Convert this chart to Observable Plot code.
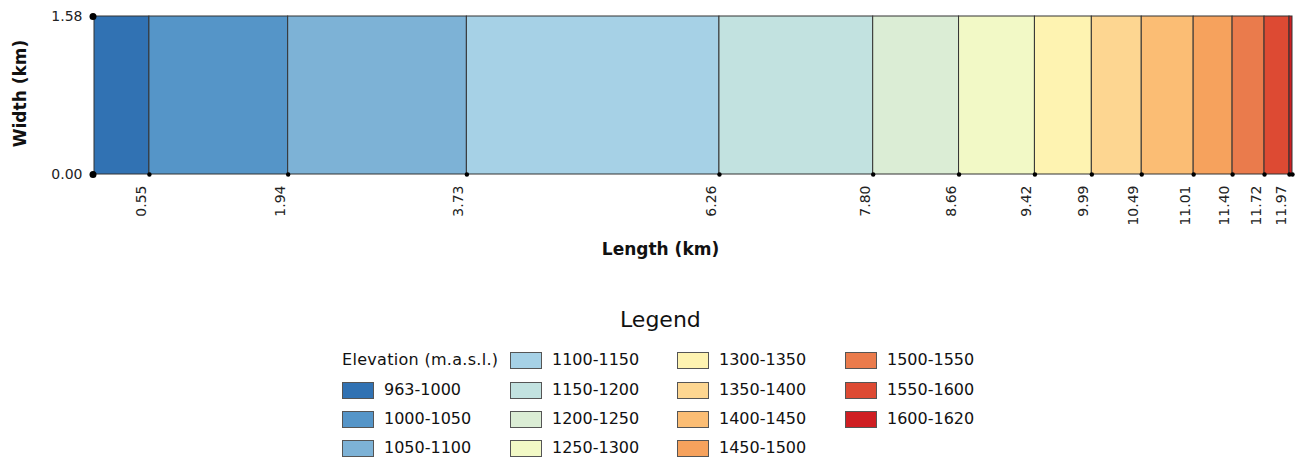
<!DOCTYPE html>
<html>
<head>
<meta charset="utf-8">
<script src="https://cdn.jsdelivr.net/npm/d3@7"></script>
<script src="https://cdn.jsdelivr.net/npm/@observablehq/plot@0.6"></script>
<style>
  html, body { margin: 0; padding: 0; background: #fff; width: 1299px; height: 457px; overflow: hidden; font-family: "DejaVu Sans", sans-serif; }
  #wrap { position: relative; width: 1299px; height: 457px; }
  #legend { position: absolute; left: 0; top: 290px; width: 1299px; height: 167px; }
  .ltitle { position: absolute; font-size: 22px; color: #111; }
  .lhead, .ltext { position: absolute; font-size: 16px; color: #111; white-space: nowrap; line-height: 18px; }
  .lhead { letter-spacing: 0.3px; }
  .sw { position: absolute; width: 30px; height: 15px; border: 1px solid #555; }
</style>
</head>
<body>
<div id="wrap">
  <div id="chart"></div>
  <div id="legend"></div>
</div>
<script>
// Section boundaries along the length (km)
const boundaries = [0, 0.55, 1.94, 3.73, 6.26, 7.80, 8.66, 9.42, 9.99, 10.49, 11.01, 11.40, 11.72, 11.97, 12.00];
// Elevation classes (m.a.s.l.)
const classes = ["963-1000", "1000-1050", "1050-1100", "1100-1150", "1150-1200", "1200-1250", "1250-1300",
                 "1300-1350", "1350-1400", "1400-1450", "1450-1500", "1500-1550", "1550-1600", "1600-1620"];
const colors = ["#3172b3", "#5595c8", "#7db2d6", "#a6d1e6", "#c2e2e0", "#dbedd5", "#f2f9c6",
                "#fef3b1", "#fdd691", "#fbbd74", "#f6a25d", "#ea7b4c", "#dd4a33", "#cf1e22"];
const stripWidth = 1.58;
const yTicks = [0, stripWidth];

const segments = classes.map((c, i) => ({cls: c, x1: boundaries[i], x2: boundaries[i + 1], color: colors[i]}));
const fmt = d3.format(".2f");

const chart = Plot.plot({
  width: 1299,
  height: 290,
  marginLeft: 94,
  marginRight: 7,
  marginTop: 16,
  marginBottom: 116,
  style: {fontFamily: "DejaVu Sans, sans-serif", color: "#222", background: "#fff"},
  x: {domain: [0, boundaries[boundaries.length - 1]]},
  y: {domain: [0, stripWidth]},
  marks: [
    Plot.rect(segments, {x1: "x1", x2: "x2", y1: () => 0, y2: () => stripWidth, fill: "color", stroke: "#333", strokeWidth: 1}),
    Plot.dot(boundaries.slice(1), {x: d => d, y: () => 0, r: 2.2, fill: "black", stroke: "none"}),
    Plot.dot(yTicks, {x: () => 0, y: d => d, r: 3.5, dx: -1.5, fill: "black", stroke: "none"}),
    Plot.axisX(boundaries.slice(1, -1), {tickSize: 0, tickRotate: -90, tickFormat: fmt, fontSize: 14, tickPadding: 11, dx: -8, label: null}),
    Plot.axisY(yTicks, {tickSize: 0, tickFormat: fmt, fontSize: 14, tickPadding: 12, label: null}),
    Plot.text(["Width (km)"], {frameAnchor: "left", textAnchor: "middle", rotate: -90, dx: -74, dy: -2, fontWeight: "bold", fontSize: 17, fill: "#111"}),
    Plot.text(["Length (km)"], {frameAnchor: "bottom", dy: 80, dx: -33, fontWeight: "bold", fontSize: 17, fill: "#111"})
  ]
});
document.getElementById("chart").appendChild(chart);

// Legend
const legend = document.getElementById("legend");
const title = document.createElement("div");
title.className = "ltitle";
title.textContent = "Legend";
title.style.left = "620px";
title.style.top = "17px";
legend.appendChild(title);

const colX = [342, 510, 677, 845];
const rowY = [70, 100, 129, 158]; // centers relative to legend top
const head = document.createElement("div");
head.className = "lhead";
head.textContent = "Elevation (m.a.s.l.)";
head.style.left = "342px";
head.style.top = (rowY[0] - 9) + "px";
legend.appendChild(head);

classes.forEach((c, i) => {
  const slot = i + 1;
  const col = Math.floor(slot / 4), row = slot % 4;
  const sw = document.createElement("div");
  sw.className = "sw";
  sw.style.background = colors[i];
  sw.style.left = colX[col] + "px";
  sw.style.top = (rowY[row] - 8.5) + "px";
  legend.appendChild(sw);
  const t = document.createElement("div");
  t.className = "ltext";
  t.textContent = c;
  t.style.left = (colX[col] + 42) + "px";
  t.style.top = (rowY[row] - 9) + "px";
  legend.appendChild(t);
});
</script>
</body>
</html>
